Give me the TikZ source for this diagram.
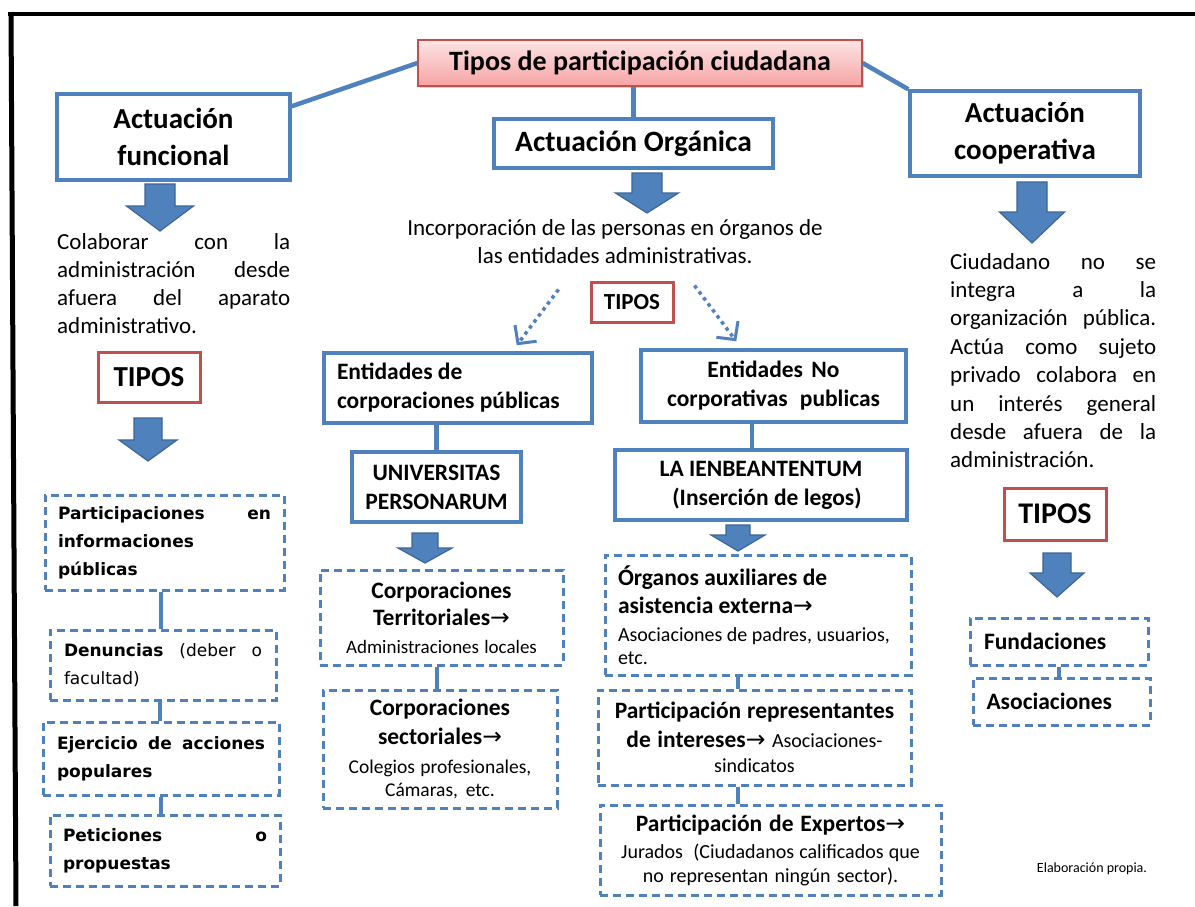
\documentclass[tikz,border=0pt]{standalone}
\usepackage{fontspec}
\setmainfont{Carlito}
\newfontfamily\vfont{DejaVu Sans}
\usetikzlibrary{arrows.meta,shadows,calc}

\definecolor{lineblue}{HTML}{4F81BD}
\definecolor{arrowedge}{HTML}{3C6696}
\definecolor{tiposred}{HTML}{C0504D}
\definecolor{pinktop}{HTML}{FDE4E4}
\definecolor{pinkbot}{HTML}{F6A3A3}

% arrow glyph used after bold headings
\newcommand\arr{{\vfont\mdseries →}}
% a line stretched to the full given width (justified line)
\newcommand\jl[2]{\makebox[#1][s]{\spaceskip=0pt\relax\xspaceskip=0pt\relax #2}}

\tikzset{
  pics/blockarrow/.style n args={4}{code={
    \filldraw[fill=lineblue, draw=arrowedge, line width=1.2pt, line join=miter]
      (-#1/2,0) -- (#1/2,0) -- (#1/2,#3) -- (#2/2,#3) -- (0,#4)
      -- (-#2/2,#3) -- (-#1/2,#3) -- cycle;
  }}
}

\begin{document}
\begin{tikzpicture}[x=1pt,y=-1pt,
  every node/.append style={execute at begin node={\spaceskip=0pt\relax\xspaceskip=0pt\relax}},
  solidbox/.style={draw=lineblue, line width=3.5pt, fill=white, inner sep=0pt, rectangle},
  dashbox/.style={draw=lineblue, line width=3pt, dash pattern=on 8pt off 5pt, fill=white, inner sep=0pt, rectangle},
  tiposbox/.style={draw=tiposred, line width=3pt, fill=white, inner sep=0pt, rectangle, font=\bfseries},
  link/.style={draw=lineblue, line width=4.5pt},
  plain/.style={inner sep=0pt},
  dotarrow/.style={draw=lineblue, line width=3.5pt, dash pattern=on 3.5pt off 4pt,
    -{Straight Barb[length=13pt,width=27pt,line width=3pt]}},
  headfont/.style={font=\fontsize{29}{37}\selectfont\bfseries},
  boxfont/.style={font=\fontsize{23.5}{29}\selectfont\bfseries},
  vfontb/.style={font=\vfont\bfseries\fontsize{17}{28}\selectfont},
]
\useasboundingbox (0,0) rectangle (1195,906);
\fill[white] (0,0) rectangle (1195,906);

% frame
\draw[line width=4.5pt] (8,14) -- (1195,14);
\draw[line width=5pt] (11,12) -- (16,906);

% ---------- top level ----------
\node[draw=tiposred, line width=1.2pt, top color=pinktop, bottom color=pinkbot,
      drop shadow={opacity=0.35, shadow xshift=2pt, shadow yshift=-2pt},
      minimum width=444pt, minimum height=46pt, inner sep=0pt,
      font=\fontsize{28}{34}\selectfont\bfseries] (tit) at (640,63) {Tipos de participación ciudadana};

\node[solidbox, headfont, minimum width=233pt, minimum height=86pt, align=center] (fun) at (173.5,137) {Actuación\\funcional};
\node[solidbox, font=\fontsize{29.5}{36}\selectfont\bfseries, minimum width=279pt, minimum height=49pt] (org) at (633.5,143.5) {Actuación Orgánica};
\node[solidbox, headfont, minimum width=230pt, minimum height=85pt, align=center] (coop) at (1025,133.5) {Actuación\\cooperativa};

\draw[link] (tit.west) -- ([yshift=-14pt]fun.north east);
\draw[link] (tit.east) -- (coop.north west);
\draw[link] (tit.south -| org.north) -- (org.north);

\pic at (160,184) {blockarrow={30}{67}{22}{47}};
\pic at (647,173) {blockarrow={30}{63}{20}{40}};
\pic at (1032,182) {blockarrow={30}{65}{30}{61}};

% ---------- left column ----------
\node[plain, anchor=north west, text width=233pt, align=left, font=\fontsize{23}{28}\selectfont] (colab) at (57,233)
  {\jl{233pt}{Colaborar con la}\\\jl{233pt}{administración desde}\\\jl{233pt}{afuera del aparato}\\administrativo.};

\node[tiposbox, font=\fontsize{29}{34}\selectfont\bfseries, minimum width=102pt, minimum height=50pt] (tl) at (149,377) {TIPOS};
\pic at (148,418) {blockarrow={28}{58}{22}{43}};

\node[dashbox, vfontb, minimum width=239pt, minimum height=95pt, text width=213pt, align=left] (b1) at (164.5,542.5)
  {\jl{213pt}{Participaciones en}\\informaciones\\públicas};
\node[dashbox, font=\vfont\fontsize{17}{28}\selectfont, minimum width=226pt, minimum height=70pt, text width=198pt, align=left] (b2) at (163,665)
  {\jl{198pt}{\textbf{Denuncias} (deber o}\\facultad)};
\node[dashbox, vfontb, minimum width=236pt, minimum height=73pt, text width=208pt, align=left] (b3) at (161,758.5)
  {\jl{208pt}{Ejercicio de acciones}\\populares};
\node[dashbox, vfontb, minimum width=230pt, minimum height=71pt, text width=204pt, align=left] (b4) at (165,850.5)
  {\jl{204pt}{Peticiones o}\\propuestas};

\draw[link, line width=4pt] ([xshift=-4pt]b1.south) -- ([xshift=-4pt]b1.south |- b2.north);
\draw[link, line width=4pt] ([xshift=-3pt]b2.south) -- ([xshift=-3pt]b2.south |- b3.north);
\draw[link, line width=4pt] (b3.south) -- (b3.south |- b4.north);

% ---------- centre column ----------
\node[plain, anchor=north, align=center, font=\fontsize{23}{28}\selectfont] (inc) at (615,219)
  {Incorporación de las personas en órganos de\\las entidades administrativas.};

\node[tiposbox, font=\fontsize{23}{28}\selectfont\bfseries, minimum width=82pt, minimum height=40pt] (tc) at (632,302) {TIPOS};

\node[solidbox, boxfont, minimum width=268pt, minimum height=70pt, text width=242pt, align=left] (ent1) at (458,388)
  {Entidades de\\corporaciones públicas};
\node[solidbox, boxfont, minimum width=265pt, minimum height=72pt, text width=240pt, align=center] (ent2) at (773.5,386)
  {Entidades No\\corporativas\ \ publicas};

\draw[dotarrow] ($(tc.north west)+(-31,9)$) -- ($(ent1.north east)+(-77,-6)$);
\draw[dotarrow] ($(tc.north east)+(20,5)$) -- ($(ent2.north west)+(97,-7)$);

\node[solidbox, boxfont, minimum width=169pt, minimum height=70pt, align=center] (univ) at (436.5,487)
  {UNIVERSITAS\\PERSONARUM};
\draw[link] (univ.north) -- (univ.north |- ent1.south);
\pic at (425,533) {blockarrow={26}{54}{15}{30}};

\node[dashbox, font=\fontsize{23.5}{27.5}\selectfont\bfseries, minimum width=243pt, minimum height=95pt, text width=230pt, align=center] (ct) at (441.5,617.5)
  {Corporaciones\\Territoriales\arr\\{\mdseries\fontsize{19}{27.5}\selectfont Administraciones locales}};
\node[dashbox, font=\fontsize{23.5}{29}\selectfont\bfseries, minimum width=234pt, minimum height=118pt, text width=224pt, align=center] (cs) at (440,749)
  {Corporaciones\\sectoriales\arr\\{\mdseries\fontsize{19.5}{29}\selectfont Colegios profesionales,\\[-6pt]Cámaras, etc.}};
\draw[link, line width=4pt] (univ.south |- ct.south) -- (univ.south |- cs.north);

% ---------- centre-right column ----------
\node[solidbox, boxfont, minimum width=292pt, minimum height=70pt, align=center] (ienb) at (761,485)
  {LA IENBEANTENTUM\\\hspace*{12pt}(Inserción de legos)};
\draw[link] ([xshift=-21.5pt]ent2.south) -- ([xshift=-21.5pt]ent2.south |- ienb.north);
\pic at (738,525) {blockarrow={24}{54}{10}{26}};

\node[dashbox, font=\fontsize{23.5}{28}\selectfont\bfseries, minimum width=306pt, minimum height=120pt, text width=280pt, align=left] (oa) at (758,615)
  {Órganos auxiliares de\\asistencia externa\arr\\{\mdseries\fontsize{20}{28}\selectfont Asociaciones de padres, usuarios,\\[-5pt]etc.}};
\node[dashbox, font=\fontsize{23.5}{29}\selectfont\bfseries, minimum width=313pt, minimum height=95pt, text width=300pt, align=center] (pr) at (754.5,737.5)
  {Participación representantes\\de intereses\arr{} {\mdseries\fontsize{20}{29}\selectfont Asociaciones-\\[-4pt]sindicatos}};
\node[dashbox, font=\fontsize{23.5}{27}\selectfont\bfseries, minimum width=341pt, minimum height=90pt, text width=325pt, align=center] (pe) at (770.5,850)
  {Participación de Expertos\arr\\{\mdseries\fontsize{20}{27}\selectfont Jurados\ \ (Ciudadanos calificados que\\[-3pt]no representan ningún sector).}};

\draw[link, line width=4pt] ([xshift=-20pt]oa.south) -- ([xshift=-20pt]oa.south |- pr.north);
\draw[link, line width=4pt] ([xshift=-16.5pt]pr.south) -- ([xshift=-16.5pt]pr.south |- pe.north);

% ---------- right column ----------
\node[plain, anchor=north west, text width=206pt, align=left, font=\fontsize{23}{28.4}\selectfont] (ciu) at (950,253)
  {\jl{206pt}{Ciudadano no se}\\\jl{206pt}{integra a la}\\\jl{206pt}{organización pública.}\\\jl{206pt}{Actúa como sujeto}\\\jl{206pt}{privado colabora en}\\\jl{206pt}{un interés general}\\\jl{206pt}{desde afuera de la}\\administración.};

\node[tiposbox, font=\fontsize{30}{34}\selectfont\bfseries, minimum width=102pt, minimum height=52pt] (tr) at (1055,514) {TIPOS};
\pic at (1057,553) {blockarrow={28}{54}{20}{44}};

\node[dashbox, font=\fontsize{23.5}{28}\selectfont\bfseries, minimum width=178pt, minimum height=47pt, text width=150pt, align=left] (fund) at (1059,641.5) {Fundaciones};
\node[dashbox, font=\fontsize{23.5}{28}\selectfont\bfseries, minimum width=177pt, minimum height=47pt, text width=150pt, align=left] (aso) at (1061.5,701.5) {Asociaciones};
\draw[link, line width=4pt] (fund.south) -- (fund.south |- aso.north);

\node[plain, font=\fontsize{14}{17}\selectfont] (elab) at (1092,869) {Elaboración propia.};
\end{tikzpicture}
\end{document}
